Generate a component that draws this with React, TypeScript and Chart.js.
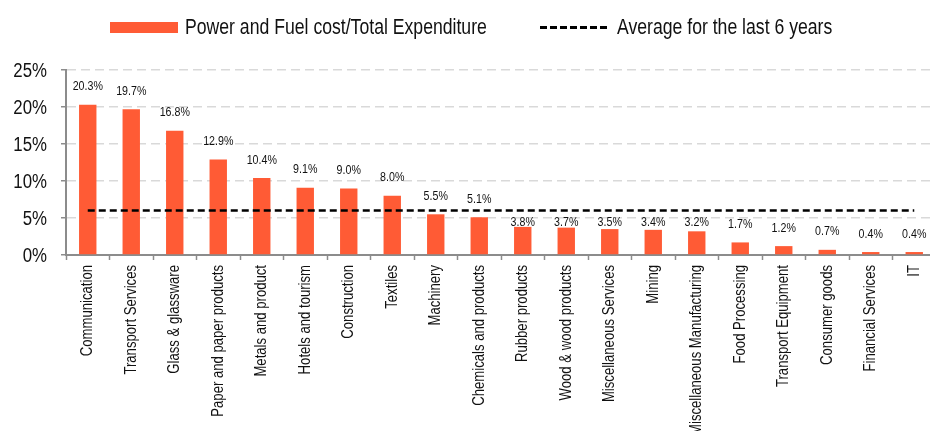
import React, { useEffect, useRef } from "react";
import { Chart, registerables } from "chart.js";

Chart.register(...registerables);

const categories = [
  "Communication",
  "Transport Services",
  "Glass & glassware",
  "Paper and paper products",
  "Metals and product",
  "Hotels and tourism",
  "Construction",
  "Textiles",
  "Machinery",
  "Chemicals and products",
  "Rubber products",
  "Wood & wood products",
  "Miscellaneous Services",
  "Mining",
  "Miscellaneous Manufacturing",
  "Food Processing",
  "Transport Equipment",
  "Consumer goods",
  "Financial Services",
  "IT",
];

const powerFuelShare = [
  20.3, 19.7, 16.8, 12.9, 10.4, 9.1, 9.0, 8.0, 5.5, 5.1, 3.8, 3.7, 3.5, 3.4, 3.2,
  1.7, 1.2, 0.7, 0.4, 0.4,
];

const sixYearAverage = [
  6.0, 6.0, 6.0, 6.0, 6.0, 6.0, 6.0, 6.0, 6.0, 6.0, 6.0, 6.0, 6.0, 6.0, 6.0, 6.0,
  6.0, 6.0, 6.0, 6.0,
];

const yTicks = [0, 5, 10, 15, 20, 25];

const seriesNames = ["Power and Fuel cost/Total Expenditure", "Average for the last 6 years"];

const FONT = "'Liberation Sans', Arial, sans-serif";
const NARROW = 0.82;
const ORANGE = "#FF5B35";
const AXIS = "#8c8c8c";
const GRID = "#d9d9d9";
const TEXT = "#111";

// Narrow-face text (Arial Narrow look) drawn through the scales' own pixel mapping
const narrowText = {
  id: "narrowText",
  afterDatasetsDraw(chart: any) {
    const ctx = chart.ctx;
    const xs = chart.scales.x;
    const ys = chart.scales.y;
    const area = chart.chartArea;

    // value labels above bars
    const meta = chart.getDatasetMeta(1);
    const lineY = ys.getPixelForValue(sixYearAverage[0]);
    ctx.save();
    ctx.font = `13px ${FONT}`;
    ctx.fillStyle = TEXT;
    ctx.textAlign = "center";
    ctx.textBaseline = "middle";
    meta.data.forEach((el: any, i: number) => {
      let y = el.y - 18;
      if (Math.abs(y - lineY) < 10) y = lineY + 12;
      ctx.save();
      ctx.translate(el.x, y);
      ctx.scale(NARROW, 1);
      ctx.fillText(powerFuelShare[i].toFixed(1) + "%", 0, 0);
      ctx.restore();
    });
    ctx.restore();

    // y tick labels
    ctx.save();
    ctx.font = `20.5px ${FONT}`;
    ctx.fillStyle = TEXT;
    ctx.textAlign = "right";
    ctx.textBaseline = "middle";
    yTicks.forEach((v) => {
      ctx.save();
      ctx.translate(area.left - 19, ys.getPixelForValue(v) + 1);
      ctx.scale(NARROW, 1);
      ctx.fillText(`${v}%`, 0, 0);
      ctx.restore();
    });
    ctx.restore();

    // x category labels, rotated
    ctx.save();
    ctx.font = `16px ${FONT}`;
    ctx.fillStyle = TEXT;
    ctx.textAlign = "right";
    ctx.textBaseline = "middle";
    categories.forEach((c, i) => {
      ctx.save();
      ctx.translate(xs.getPixelForValue(i), area.bottom + 10);
      ctx.rotate(-Math.PI / 2);
      ctx.scale(NARROW, 1);
      ctx.fillText(c, 0, 0);
      ctx.restore();
    });
    ctx.restore();
  },
};

export default function App() {
  const canvasRef = useRef<HTMLCanvasElement | null>(null);

  useEffect(() => {
    const canvas = canvasRef.current;
    if (!canvas) return;
    const chart = new Chart(canvas, {
      type: "bar",
      data: {
        labels: categories,
        datasets: [
          {
            type: "line",
            label: seriesNames[1],
            data: sixYearAverage,
            borderColor: "#000",
            borderWidth: 2.5,
            borderDash: [7, 4],
            pointRadius: 0,
            fill: false,
            order: 0,
          } as any,
          {
            type: "bar",
            label: seriesNames[0],
            data: powerFuelShare,
            backgroundColor: ORANGE,
            borderWidth: 0,
            categoryPercentage: 1,
            barPercentage: 0.4,
            order: 1,
          },
        ],
      },
      options: {
        responsive: false,
        animation: false,
        devicePixelRatio: 1,
        layout: { padding: { top: 70, left: 0, right: 0, bottom: 0 } },
        plugins: {
          legend: { display: false },
          tooltip: { enabled: false },
        },
        scales: {
          x: {
            offset: true,
            afterFit(scale: any) {
              scale.height = 176;
            },
            grid: {
              display: true,
              drawOnChartArea: false,
              offset: true,
              tickLength: 5,
              tickColor: AXIS,
              tickWidth: 1.5,
            },
            border: { display: true, color: AXIS, width: 2 },
            ticks: { display: false, autoSkip: false },
          },
          y: {
            min: 0,
            max: 25,
            afterFit(scale: any) {
              scale.width = 66;
            },
            afterBuildTicks(scale: any) {
              scale.ticks = yTicks.map((v) => ({ value: v }));
            },
            grid: {
              color: GRID,
              lineWidth: 1.5,
              tickLength: 5,
              tickColor: AXIS,
              tickWidth: 1.5,
            },
            border: { display: true, color: AXIS, width: 2, dash: [9, 5] },
            ticks: { display: false },
          },
        },
      },
      plugins: [narrowText],
    });
    return () => chart.destroy();
  }, []);

  const legendItem: React.CSSProperties = {
    position: "absolute",
    top: 16,
    height: 22,
    display: "flex",
    alignItems: "center",
    font: `21.5px ${FONT}`,
    color: TEXT,
    whiteSpace: "nowrap",
  };
  const narrowSpan: React.CSSProperties = {
    display: "inline-block",
    transform: `scaleX(${NARROW})`,
    transformOrigin: "left center",
  };

  return (
    <div
      style={{
        position: "fixed",
        left: 0,
        top: 0,
        width: 930,
        height: 431,
        background: "#fff",
        overflow: "hidden",
      }}
    >
      <canvas ref={canvasRef} width={936} height={431} style={{ display: "block" }} />
      <div style={{ ...legendItem, left: 110 }}>
        <span style={{ display: "inline-block", width: 68, height: 11, background: ORANGE, marginRight: 7 }} />
        <span style={narrowSpan}>{seriesNames[0]}</span>
      </div>
      <div style={{ ...legendItem, left: 540 }}>
        <span
          style={{
            display: "inline-block",
            width: 68,
            height: 3,
            marginRight: 9,
            background: "repeating-linear-gradient(to right, #000 0px, #000 7px, transparent 7px, transparent 10px)",
          }}
        />
        <span style={narrowSpan}>{seriesNames[1]}</span>
      </div>
    </div>
  );
}
